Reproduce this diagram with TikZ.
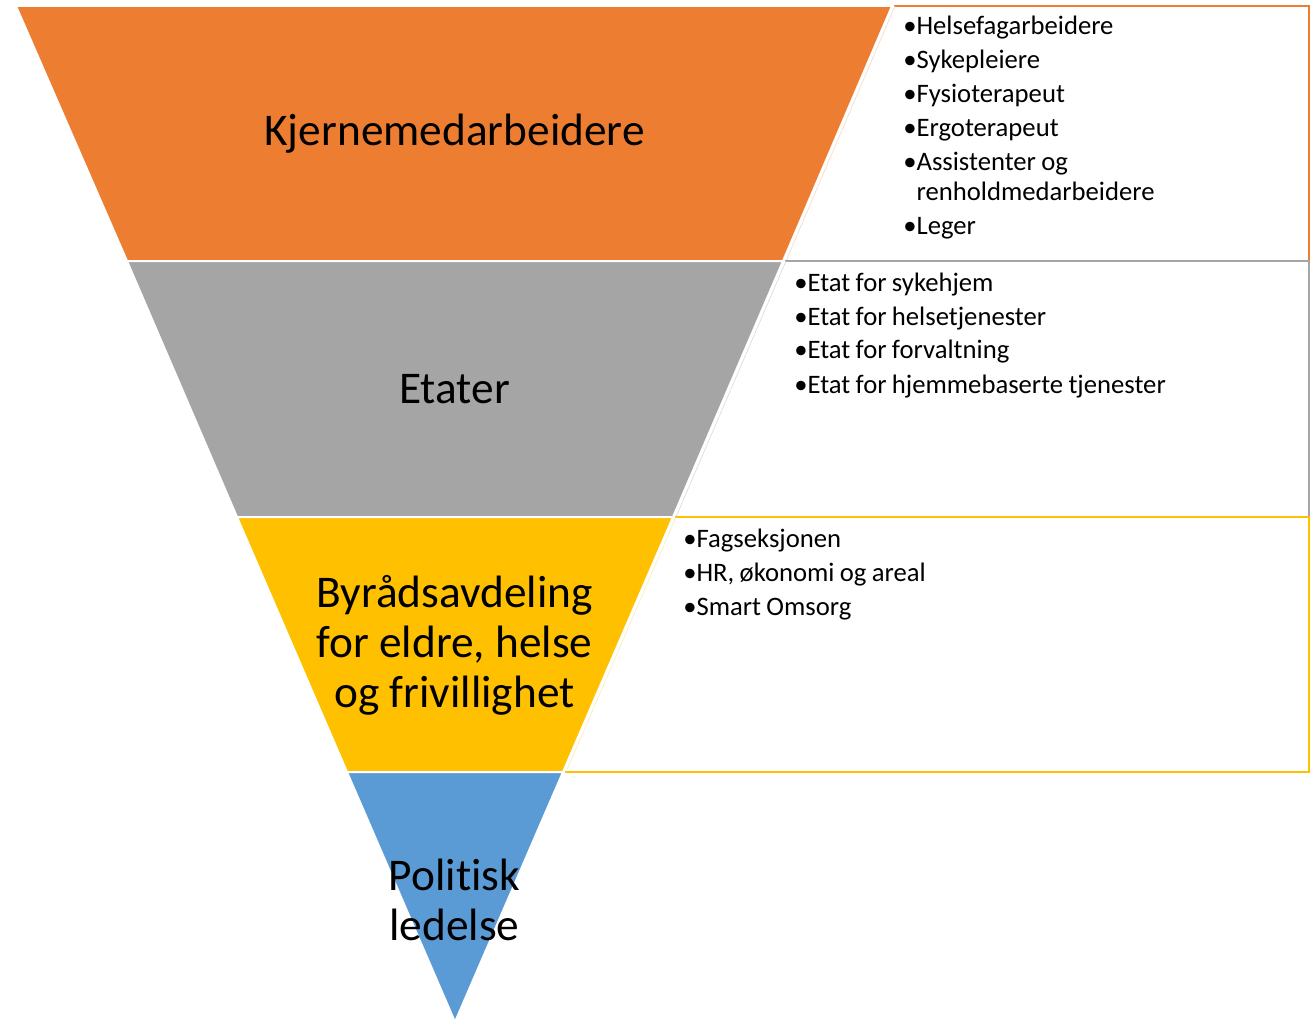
\documentclass[tikz,border=0pt]{standalone}
\usepackage{fontspec}
\setmainfont{Carlito}[Ligatures=NoCommon]
\usepackage{xcolor}
\usetikzlibrary{positioning, calc}

\definecolor{kjerneorange}{HTML}{ED7D31}
\definecolor{etatgray}{HTML}{A5A5A5}
\definecolor{byradyellow}{HTML}{FFC000}
\definecolor{politiskblue}{HTML}{5B9BD5}

\newcommand{\punkt}{\makebox[0.5em][l]{•}}
\newcommand{\smalrom}{\spaceskip=0.2em\relax}

\begin{document}
\begin{tikzpicture}[
    x=0.75pt, y=-0.75pt,
    band/.style={draw=white, line width=1.5pt, line join=miter},
    boxline/.style={line width=1.5pt},
    edgeline/.style={line width=0.5pt},
    bandlabel/.style={align=center, inner sep=0pt, font=\fontsize{34}{37.5}\selectfont},
    itemlist/.style={anchor=base west, text width=320pt, align=left, inner sep=0pt,
      font=\fontsize{20}{22.5}\selectfont},
]
\useasboundingbox (0,0) rectangle (1311,1024);

% Pyramid corners
\coordinate (L0) at (16,6);   \coordinate (R0) at (892,6);
\coordinate (L1) at (127,261); \coordinate (R1) at (783,261);
\coordinate (L2) at (237,517); \coordinate (R2) at (673,517);
\coordinate (L3) at (347,772); \coordinate (R3) at (563,772);
\coordinate (apex) at (455,1022);

% Box corners on the right
\coordinate (B0) at (1309,6);
\coordinate (B1) at (1309,261);
\coordinate (B2) at (1309,517);
\coordinate (B3) at (1309,772);

% Text boxes
\draw[boxline, kjerneorange] ($(R0)+(2,0)$) -- (B0) -- (B1) -- ($(R1)+(2,0)$);
\draw[edgeline, kjerneorange!30] ($(R0)+(3,0)$) -- ($(R1)+(3,0)$);
\draw[boxline, etatgray] ($(R1)+(2,0)$) -- (B1) -- (B2) -- ($(R2)+(2,0)$);
\draw[edgeline, etatgray!40] ($(R1)+(3,0)$) -- ($(R2)+(3,0)$);
\draw[boxline, byradyellow] ($(R2)+(2,0)$) -- (B2) -- (B3) -- ($(R3)+(2,0)$);
\draw[edgeline, byradyellow!30] ($(R2)+(3,0)$) -- ($(R3)+(3,0)$);

% Pyramid bands
\filldraw[band, fill=kjerneorange] (L0) -- (R0) -- (R1) -- (L1) -- cycle;
\filldraw[band, fill=etatgray] (L1) -- (R1) -- (R2) -- (L2) -- cycle;
\filldraw[band, fill=byradyellow] (L2) -- (R2) -- (R3) -- (L3) -- cycle;
\filldraw[band, fill=politiskblue] (L3) -- (R3) -- (apex) -- cycle;

% Band labels
\node[bandlabel] (kjerne) at (454.5,134) {Kjernemedarbeidere};
\node[bandlabel] (etater) at (454.5,389) {Etater};
\node[bandlabel] (byrad) at (454.5,645) {Byrådsavdeling\\for eldre, helse\\og frivillighet};
\node[bandlabel] (politisk) at (454.5,900) {Politisk\\ledelse};

% Lists
\node[itemlist] (kjernelist) at ($(R0)+(11,29)$) {\smalrom\punkt Helsefagarbeidere\\[3pt]
  \punkt Sykepleiere\\[3pt]
  \punkt Fysioterapeut\\[3pt]
  \punkt Ergoterapeut\\[3pt]
  \punkt Assistenter og\\\hspace*{0.5em}renholdmedarbeidere\\[3pt]
  \punkt Leger};
\node[itemlist] (etatlist) at ($(R1)+(11,30)$) {\smalrom\punkt Etat for sykehjem\\[3pt]
  \punkt Etat for helsetjenester\\[3pt]
  \punkt Etat for forvaltning\\[3pt]
  \punkt Etat for hjemmebaserte tjenester};
\node[itemlist] (byradlist) at ($(R2)+(10,30)$) {\smalrom\punkt Fagseksjonen\\[3pt]
  \punkt HR, økonomi og areal\\[3pt]
  \punkt Smart Omsorg};

\end{tikzpicture}
\end{document}
